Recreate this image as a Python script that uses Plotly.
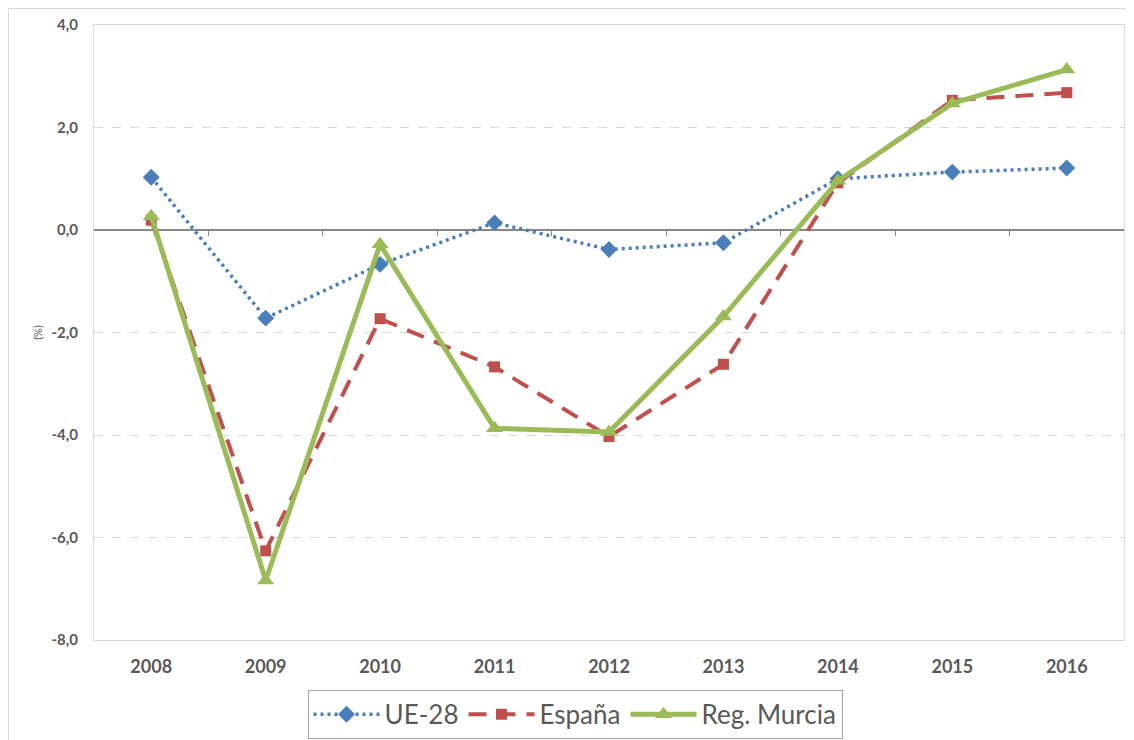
import plotly.graph_objects as go

years = ["2008", "2009", "2010", "2011", "2012", "2013", "2014", "2015", "2016"]
ue28 = [1.03, -1.72, -0.67, 0.14, -0.38, -0.25, 1.0, 1.13, 1.21]
espana = [0.19, -6.26, -1.73, -2.67, -4.03, -2.62, 0.92, 2.53, 2.68]
murcia = [0.27, -6.84, -0.28, -3.87, -3.94, -1.69, 0.96, 2.47, 3.13]
y_ticks = [4, 2, 0, -2, -4, -6, -8]
y_tick_labels = ["4,0", "2,0", "0,0", "-2,0", "-4,0", "-6,0", "-8,0"]

xs = list(range(len(years)))
FONT = "Lato, 'Open Sans', sans-serif"
GREY = "#595959"

# the page body has an 8px margin; the figure is sized so it fits the window
W, H = 1126, 732
L, R, T, B = 86, 10, 17, 100
PW, PH = W - L - R, H - T - B

fig = go.Figure()
fig.add_trace(go.Scatter(
    x=xs, y=ue28, name="UE-28", mode="lines+markers",
    line=dict(color="#4a7ebb", width=3.5, dash="3px,4px"),
    marker=dict(symbol="diamond", size=13, color="#4a7ebb"),
))
fig.add_trace(go.Scatter(
    x=xs, y=espana, name="España", mode="lines+markers",
    line=dict(color="#c0504d", width=4, dash="18px,11px"),
    marker=dict(symbol="square", size=11, color="#c0504d"),
))
fig.add_trace(go.Scatter(
    x=xs, y=murcia, name="Reg. Murcia", mode="lines+markers",
    line=dict(color="#9bbb59", width=5),
    marker=dict(symbol="triangle-up", size=15, color="#9bbb59"),
))
# helper axis drawing the zero line tick marks between categories
fig.add_trace(go.Scatter(x=[], y=[], xaxis="x2", showlegend=False, hoverinfo="skip"))

ymin, ymax = -8, 4
fig.update_layout(
    width=W, height=H,
    margin=dict(l=L, r=R, t=T, b=B, autoexpand=False),
    paper_bgcolor="white", plot_bgcolor="white",
    font=dict(family=FONT, color=GREY),
    xaxis=dict(
        range=[-0.5, len(years) - 0.5],
        tickmode="array", tickvals=xs, ticktext=years,
        tickfont=dict(size=18, color=GREY, family=FONT, weight="bold"),
        showgrid=False, zeroline=False, automargin=False,
        showline=True, linecolor="#d9d9d9", linewidth=1, mirror=True,
        ticks="", ticklabelstandoff=10,
    ),
    xaxis2=dict(
        overlaying="x", anchor="free", position=(0 - ymin) / (ymax - ymin),
        range=[-0.5, len(years) - 0.5],
        tickmode="array", tickvals=[i + 0.5 for i in xs[:-1]],
        ticks="outside", ticklen=5, tickcolor="#868686", tickwidth=1,
        showticklabels=False, showgrid=False, zeroline=False,
        showline=False, automargin=False,
    ),
    yaxis=dict(
        range=[ymin, ymax],
        tickmode="array", tickvals=y_ticks, ticktext=y_tick_labels,
        tickfont=dict(size=15, color=GREY, family=FONT, weight="bold"),
        showgrid=True, gridcolor="#d9d9d9", griddash="dash", gridwidth=1,
        zeroline=True, zerolinecolor="#868686", zerolinewidth=2,
        showline=True, linecolor="#d9d9d9", linewidth=1, mirror=True,
        ticks="", ticklabelstandoff=12, automargin=False,
        title=dict(text="(%)", font=dict(size=11, color=GREY, family=FONT), standoff=6),
    ),
    legend=dict(
        orientation="h", x=0.467, xanchor="center", y=-0.081, yanchor="top",
        font=dict(size=26, color=GREY, family=FONT),
        bordercolor="#a6a6a6", borderwidth=1, bgcolor="white",
        itemwidth=66, tracegroupgap=0,
    ),
    shapes=[dict(
        type="rect", xref="paper", yref="paper",
        x0=-(L - 0.5) / PW, x1=1.05, y0=-0.4, y1=(PH + T - 0.5) / PH,
        line=dict(color="#d9d9d9", width=1), fillcolor="rgba(0,0,0,0)", layer="below",
    )],
    showlegend=True,
)

fig.write_html("out.html")
